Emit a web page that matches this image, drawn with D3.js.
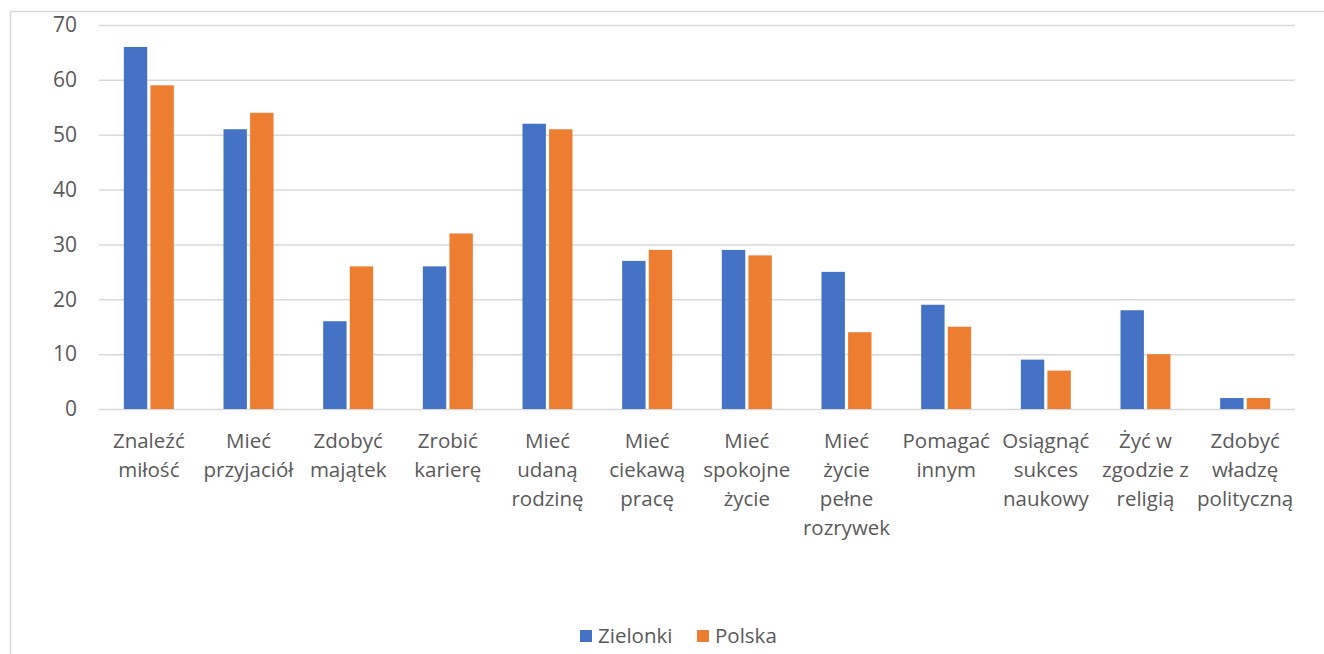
<!DOCTYPE html>
<html><head><meta charset="utf-8">
<script src="https://cdn.jsdelivr.net/npm/d3@7"></script>
<style>body{margin:0;background:#fff;}svg{display:block;font-family:"Open Sans","Noto Sans",sans-serif;}</style>
</head><body>
<svg id="c" width="1324" height="654"></svg>
<script>
const categories = [
  ["Znaleźć","miłość"],
  ["Mieć","przyjaciół"],
  ["Zdobyć","majątek"],
  ["Zrobić","karierę"],
  ["Mieć","udaną","rodzinę"],
  ["Mieć","ciekawą","pracę"],
  ["Mieć","spokojne","życie"],
  ["Mieć","życie","pełne","rozrywek"],
  ["Pomagać","innym"],
  ["Osiągnąć","sukces","naukowy"],
  ["Żyć w","zgodzie z","religią"],
  ["Zdobyć","władzę","polityczną"]
];
const zielonki = [66, 51, 16, 26, 52, 27, 29, 25, 19, 9, 18, 2];
const polska   = [59, 54, 26, 32, 51, 29, 28, 14, 15, 7, 10, 2];
const seriesNames = ["Zielonki", "Polska"];
const colors = ["#4472C4", "#ED7D31"];
const yTicks = [0, 10, 20, 30, 40, 50, 60, 70];

(function () {
const svg = d3.select("#c");
svg.append("rect").attr("x", 10.5).attr("y", 11.5).attr("width", 1340).attr("height", 700)
  .attr("fill", "none").attr("stroke", "#d9d9d9").attr("stroke-width", 1.5);

const pL = 99, pR = 1295, pT = 25, pB = 409;
const x0 = d3.scaleBand().domain(d3.range(categories.length)).range([pL, pR]).paddingInner(0).paddingOuter(0);
const x1 = d3.scaleBand().domain([0, 1]).range([x0.bandwidth()/2 - 25, x0.bandwidth()/2 + 25]).paddingInner(0.12);
const y = d3.scaleLinear().domain([0, 70]).range([pB, pT]);

const yAxis = d3.axisLeft(y).tickValues(yTicks).tickSize(-(pR - pL)).tickPadding(22);
const ga = svg.append("g").attr("transform", `translate(${pL},0)`).call(yAxis);
ga.select(".domain").remove();
ga.selectAll(".tick line").attr("stroke", "#d9d9d9").attr("stroke-width", 1.5);
ga.selectAll(".tick text").attr("fill", "#595959").attr("font-size", 21).attr("font-family", "Open Sans");

const data = categories.map((c, i) => ({i, vals: [zielonki[i], polska[i]]}));
const groups = svg.append("g").selectAll("g").data(data).join("g")
  .attr("transform", d => `translate(${x0(d.i)},0)`);
groups.selectAll("rect").data(d => d.vals.map((v, s) => ({v, s}))).join("rect")
  .attr("x", d => x1(d.s)).attr("width", x1.bandwidth())
  .attr("y", d => y(d.v)).attr("height", d => y(0) - y(d.v))
  .attr("fill", d => colors[d.s]);

const xl = svg.append("g");
categories.forEach((lines, i) => {
  const cx = x0(i) + x0.bandwidth()/2;
  const t = xl.append("text").attr("x", cx).attr("y", 448)
    .attr("text-anchor", "middle").attr("fill", "#595959").attr("font-size", 20.5);
  lines.forEach((ln, k) => t.append("tspan").attr("x", cx).attr("dy", k === 0 ? 0 : 29).text(ln));
});

const legX = [580, 697];
const lg = svg.append("g");
seriesNames.forEach((n, s) => {
  lg.append("rect").attr("x", legX[s]).attr("y", 630).attr("width", 12).attr("height", 12).attr("fill", colors[s]);
  lg.append("text").attr("x", legX[s] + 18).attr("y", 643).attr("fill", "#595959").attr("font-size", 20.5).text(n);
});
})();
</script>
</body></html>
